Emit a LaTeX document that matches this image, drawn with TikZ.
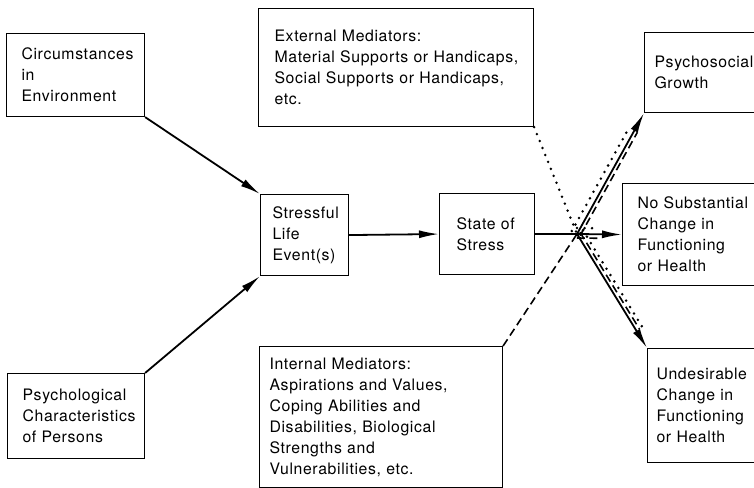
\documentclass[tikz,border=0pt]{standalone}
\usepackage{fontspec}
\setmainfont[LetterSpace=4]{TeX Gyre Heros}
\usetikzlibrary{arrows.meta,calc}

\tikzset{
  box/.style={draw, line width=1.1pt, anchor=north west, align=left,
    inner ysep=0pt, font=\fontsize{15.8}{21}\selectfont},
  arr/.style={line width=1.8pt, -{Latex[length=20pt,width=8pt]}},
  dotline/.style={line width=2.8pt, line cap=round, dash pattern=on 0pt off 7.5pt},
  dashline/.style={line width=1.6pt, dash pattern=on 8pt off 4.5pt}
}

\begin{document}
\begin{tikzpicture}[x=1pt,y=-1pt]
	\useasboundingbox (0,0) rectangle (754,487);
	% boxes
	\node[box, text width=108pt, inner xsep=15pt, minimum height=83pt] (env) at (6,33) {Circumstances\\in\\Environment};
	\node[box, text width=107pt, inner xsep=15pt, minimum height=85pt] (psych) at (7,373) {Psychological\\Characteristics\\of Persons};
	\node[box, text width=64pt, inner xsep=12pt, minimum height=81pt] (event) at (260,194) {Stressful\\Life\\Event(s)};
	\node[box, text width=61pt, inner xsep=17pt, minimum height=81pt] (state) at (439,193) {State of\\Stress};
	\node[box, text width=243pt, inner xsep=16pt, minimum height=118pt] (ext) at (258,8) {External Mediators:\\Material Supports or Handicaps,\\Social Supports or Handicaps,\\etc.};
	\node[box, text width=223pt, inner xsep=10pt, minimum height=141pt] (int) at (259,346) {Internal Mediators:\\Aspirations and Values,\\Coping Abilities and\\Disabilities, Biological\\Strengths and\\Vulnerabilities, etc.};
	\node[box, text width=100pt, inner xsep=10pt, minimum height=80pt] (growth) at (644,32) {Psychosocial\\Growth};
	\node[box, text width=110pt, inner xsep=15pt, minimum height=102pt] (nochange) at (622,183) {No Substantial\\Change in\\Functioning\\or Health};
	\node[box, text width=102pt, inner xsep=9pt, minimum height=114pt] (undes) at (647,348) {Undesirable\\Change in\\Functioning\\or Health};
	\coordinate (hub) at (577,234);
	% solid arrows
	\draw[arr] (env.south east) -- (event.north west);
	\draw[arr] (psych.north east) -- (event.south west);
	\draw[arr] (event.east) -- (state.west);
	\draw[line width=1.8pt] (state.east) -- (hub);
	\draw[arr] (hub) -- (nochange.west);
	\draw[arr] (hub) -- (growth.south west);
	\draw[arr] (hub) -- (undes.north west);
	% mediators
	\draw[dotline] (ext.south east) -- (hub);
	\draw[dashline] (int.north east) -- (hub);
	% mediators running along the outcomes
	\draw[dotline, shorten >=20pt] ($(hub)!6pt!90:(growth.south west)$) -- ($(growth.south west)!6pt!-90:(hub)$);
	\draw[dashline, shorten >=20pt] ($(hub)!3.5pt!-90:(growth.south west)$) -- ($(growth.south west)!3.5pt!90:(hub)$);
	\draw[dotline, shorten >=26pt] ($(hub)!6pt!90:(nochange.west)$) -- ($(nochange.west)!6pt!-90:(hub)$);
	\draw[dashline, shorten >=22pt] ($(hub)!4pt!-90:(nochange.west)$) -- ($(nochange.west)!4pt!90:(hub)$);
	\draw[dashline, shorten >=20pt] ($(hub)!3.5pt!90:(undes.north west)$) -- ($(undes.north west)!3.5pt!-90:(hub)$);
	\draw[dotline, shorten >=20pt] ($(hub)!7pt!90:(undes.north west)$) -- ($(undes.north west)!7pt!-90:(hub)$);
\end{tikzpicture}
\end{document}
